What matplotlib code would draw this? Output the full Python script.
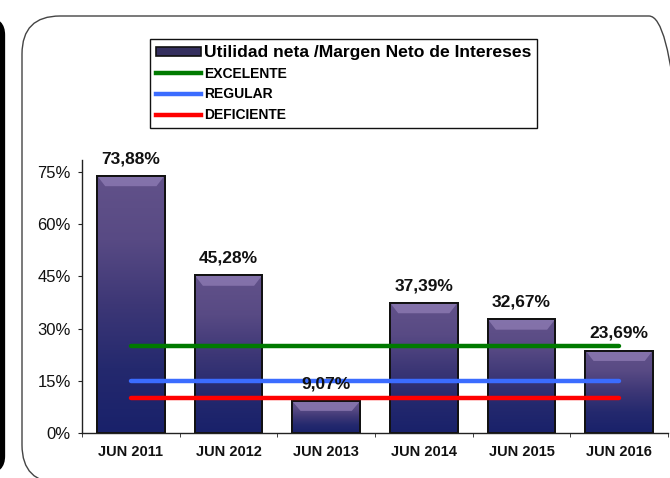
import numpy as np
import matplotlib
matplotlib.use("Agg")
import matplotlib.pyplot as plt
from matplotlib.patches import FancyBboxPatch, Polygon, Rectangle
from matplotlib.lines import Line2D
from matplotlib.colors import LinearSegmentedColormap
from matplotlib.ticker import FixedLocator, FuncFormatter
from matplotlib.transforms import IdentityTransform

plt.rcParams['font.family'] = ['Liberation Sans', 'DejaVu Sans']

categories = ["JUN 2011", "JUN 2012", "JUN 2013", "JUN 2014", "JUN 2015", "JUN 2016"]
values = [73.88, 45.28, 9.07, 37.39, 32.67, 23.69]
value_labels = ["73,88%", "45,28%", "9,07%", "37,39%", "32,67%", "23,69%"]
excelente = [25, 25]
regular = [15, 15]
deficiente = [10, 10]
yticks = [0, 15, 30, 45, 60, 75]
series_name = "Utilidad neta /Margen Neto de Intereses"

W, H = 670, 478
fig = plt.figure(figsize=(W / 100, H / 100), dpi=100)

# outer decorative frames, in display pixels (origin bottom-left)
frame = FancyBboxPatch((22, -5), 665, 467,
                       boxstyle="round,pad=0,rounding_size=38",
                       transform=IdentityTransform(), fill=False,
                       edgecolor="#444444", linewidth=1.0)
fig.add_artist(frame)
left_frame = FancyBboxPatch((-200, 7), 202.5, 451,
                            boxstyle="round,pad=0,rounding_size=15",
                            transform=IdentityTransform(), fill=False,
                            edgecolor="black", linewidth=3.8)
fig.add_artist(left_frame)

ax = fig.add_axes([82 / W, 1 - 433 / H, 586 / W, (433 - 160) / H])
x = np.arange(len(categories))
bars = ax.bar(x, values, width=0.69, color="#3a3570", edgecolor="#111111",
              linewidth=1.2, zorder=2)
ax.set_xlim(-0.5, len(categories) - 0.5)
ax.set_ylim(0, 78.4)

cmap = LinearSegmentedColormap.from_list(
    "barg", ["#19216a", "#24296e", "#3d3776", "#584a84", "#62528a"])
grad = np.linspace(0, 1, 256).reshape(-1, 1)
for b in bars:
    x0, w, h = b.get_x(), b.get_width(), b.get_height()
    im = ax.imshow(grad, extent=(x0, x0 + w, 0, h), origin="lower",
                   cmap=cmap, aspect="auto", zorder=2.1)
    im.set_clip_path(b)
    bh = min(3.0, h * 0.3)
    bw = w * 0.12
    bev = Polygon([(x0, h), (x0 + w, h), (x0 + w - bw, h - bh), (x0 + bw, h - bh)],
                  closed=True, facecolor="#8a78b0", edgecolor="none",
                  alpha=0.85, zorder=2.2)
    ax.add_patch(bev)
    edge = Rectangle((x0, 0), w, h, fill=False, edgecolor="#111111",
                     linewidth=1.4, zorder=2.3)
    ax.add_patch(edge)

ax.set_xlim(-0.5, len(categories) - 0.5)
ax.set_ylim(0, 78.4)

for xi, v, lab in zip(x, values, value_labels):
    ax.annotate(lab, (xi, v), xytext=(0, 7), textcoords="offset points",
                ha="center", va="bottom", fontsize=12.5, fontweight="bold",
                color="#111111", zorder=5)

ax.plot([x[0], x[-1]], excelente, color="#007a00", lw=3.2, zorder=4,
        solid_capstyle="round")
ax.plot([x[0], x[-1]], regular, color="#3b6cff", lw=3.2, zorder=4,
        solid_capstyle="round")
ax.plot([x[0], x[-1]], deficiente, color="#ff0000", lw=3.2, zorder=4,
        solid_capstyle="round")

for s in ["top", "right"]:
    ax.spines[s].set_visible(False)
for s in ["left", "bottom"]:
    ax.spines[s].set_color("#222222")
    ax.spines[s].set_linewidth(1.0)

ax.set_yticks(yticks)
ax.yaxis.set_major_formatter(FuncFormatter(lambda v, p: f"{int(v)}%"))
ax.tick_params(axis="y", direction="out", length=3, labelsize=12,
               colors="#222222", labelcolor="#111111", pad=5)
ax.set_xticks(x)
ax.set_xticklabels(categories, fontsize=10.5, fontweight="bold")
ax.xaxis.set_minor_locator(FixedLocator(np.arange(-0.5, len(categories), 1.0)))
ax.tick_params(axis="x", which="major", length=0, pad=9, labelcolor="#111111")
ax.tick_params(axis="x", which="minor", length=3, direction="out",
               colors="#222222")

handles = [
    Rectangle((0, 0), 1, 1, facecolor="#35305f", edgecolor="#111111", lw=1.2),
    Line2D([], [], color="#007a00", lw=3.2),
    Line2D([], [], color="#3b6cff", lw=3.2),
    Line2D([], [], color="#ff0000", lw=3.2),
]
labels = [series_name, "EXCELENTE", "REGULAR", "DEFICIENTE"]
leg = fig.legend(handles, labels, loc="upper left",
                 bbox_to_anchor=(150 / W, 1 - 39 / H),
                 bbox_transform=fig.transFigure,
                 prop={"weight": "bold", "size": 10},
                 frameon=True, fancybox=False, edgecolor="#111111",
                 framealpha=1, handlelength=3.3, handleheight=0.6,
                 handletextpad=0.2, labelspacing=0.5, borderpad=0.4,
                 borderaxespad=0)
leg.get_frame().set_linewidth(1.0)
leg.get_texts()[0].set_fontsize(12.6)

fig.savefig("out.png", dpi=100)
